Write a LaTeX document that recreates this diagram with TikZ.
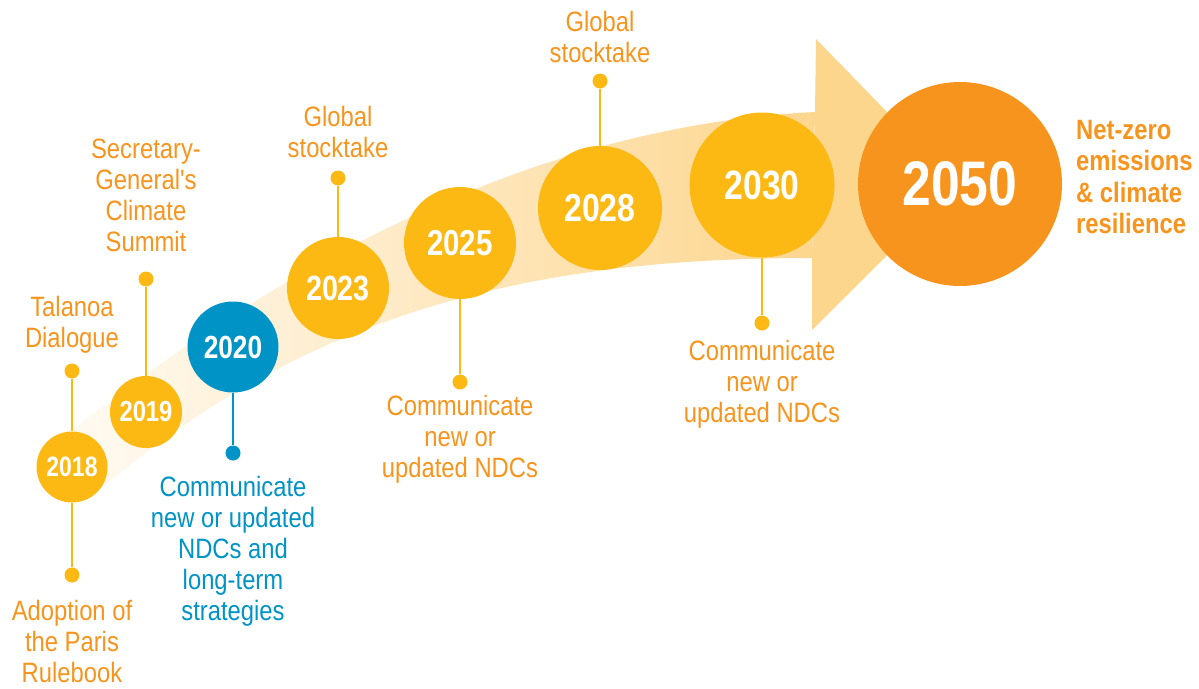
\documentclass[tikz,border=0pt]{standalone}
\usepackage{fontspec}
\setmainfont{Liberation Sans}[FakeStretch=0.85, Ligatures=TeXOff]
\newfontfamily\yearfont{Liberation Sans}[FakeStretch=0.82]
\usetikzlibrary{positioning}
\definecolor{sunyellow}{HTML}{FDB913}
\definecolor{deeporange}{HTML}{F7941D}
\definecolor{ndcblue}{HTML}{0093C6}
\definecolor{bandlight}{HTML}{FFFAF2}
\definecolor{bandpeach}{HTML}{FDD68E}
\tikzset{
  YearStyle/.style = { circle, inner sep = 0pt, text = white },
  DotStyle/.style = { circle, fill = sunyellow, minimum size = 15pt, inner sep = 0pt },
  StemStyle/.style = { draw = sunyellow, line width = 2pt },
  LabelStyle/.style = { text = deeporange, align = center, inner sep = 0pt,
                        font = \fontsize{28}{31}\selectfont } }

\begin{document}
\begin{tikzpicture}[x=1pt,y=-1pt]
  \useasboundingbox (0,0) rectangle (1199,688);
  % curved band and arrow head
  \shade[left color=bandlight, right color=bandpeach]
    (72,430) .. controls (300,250) and (550,125) .. (815,112)
    -- (812,258) .. controls (560,258) and (320,300) .. (100,490) -- cycle;
  \fill[bandpeach] (815,112) -- (816,39) -- (958,185) -- (812,330) -- (812,258) -- cycle;
  % year circles
  \foreach \yr/\x/\y/\r/\s/\c in {2018/72/467/35.5/28/sunyellow,
      2019/146/412/36/29/sunyellow, 2020/233/347/45.5/32/ndcblue,
      2023/338/288/51/35/sunyellow, 2025/460/243/56/36/sunyellow,
      2028/600/208/62/39/sunyellow, 2030/762/185/72.5/41/sunyellow,
      2050/960/184/102/63/deeporange}
    \node[YearStyle, fill=\c, minimum size={2*\r*1pt},
          font=\yearfont\bfseries\fontsize{\s}{\s}\selectfont] (y\yr) at (\x,\y) {\yr};
  % dots
  \node[DotStyle] (d2018up) at (72,371) {};
  \node[DotStyle] (d2018dn) at (72,575) {};
  \node[DotStyle] (d2019) at (146,279) {};
  \node[DotStyle, fill=ndcblue] (d2020) at (233,453) {};
  \node[DotStyle] (d2023) at (338,178) {};
  \node[DotStyle] (d2025) at (460,382) {};
  \node[DotStyle] (d2028) at (600,81) {};
  \node[DotStyle] (d2030) at (762,323) {};
  % stems
  \foreach \d/\y in {d2018up/y2018, d2018dn/y2018, d2019/y2019, d2023/y2023,
      d2025/y2025, d2028/y2028, d2030/y2030}
    \draw[StemStyle] (\d) -- (\y);
  \draw[StemStyle, draw=ndcblue] (d2020) -- (y2020);
  % labels
  \node[LabelStyle, above=10pt of d2018up] (t2018up) {Talanoa\\Dialogue};
  \node[LabelStyle, below=17pt of d2018dn] (t2018dn) {Adoption of\\the Paris\\Rulebook};
  \node[LabelStyle, above=19pt of d2019] (t2019) {Secretary-\\General's\\Climate\\Summit};
  \node[LabelStyle, text=ndcblue, below=15pt of d2020] (t2020)
    {Communicate\\new or updated\\NDCs and\\long-term\\strategies};
  \node[LabelStyle, above=12pt of d2023] (t2023) {Global\\stocktake};
  \node[LabelStyle, below=5pt of d2025] (t2025) {Communicate\\new or\\updated NDCs};
  \node[LabelStyle, above=10pt of d2028] (t2028) {Global\\stocktake};
  \node[LabelStyle, below=9pt of d2030] (t2030) {Communicate\\new or\\updated NDCs};
  \node[LabelStyle, align=left, anchor=north west,
        font=\bfseries\fontsize{28}{31.5}\selectfont] (t2050) at (1076,120)
    {Net-zero\\emissions\\\&~climate\\resilience};
\end{tikzpicture}
\end{document}
